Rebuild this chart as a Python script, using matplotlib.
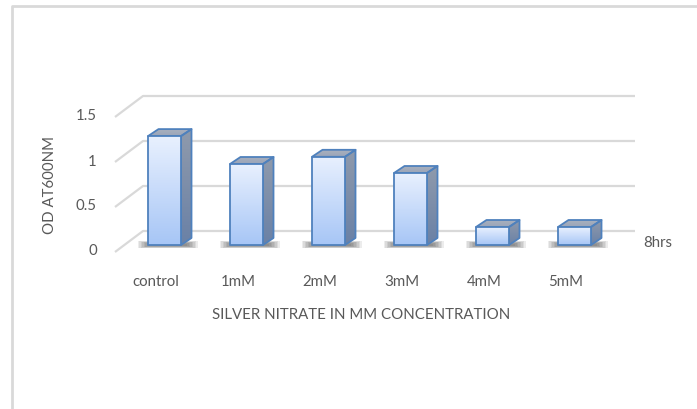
import matplotlib.pyplot as plt
import numpy as np
from matplotlib.patches import Polygon
from matplotlib.lines import Line2D
from matplotlib.colors import LinearSegmentedColormap

categories = ['control', '1mM', '2mM', '3mM', '4mM', '5mM']
od_8hrs = [1.21, 0.90, 0.98, 0.80, 0.20, 0.20]
y_ticks = [0, 0.5, 1, 1.5]
y_tick_labels = ['0', '0.5', '1', '1.5']
series_name = '8hrs'

W, H = 697, 410
# pixel layout: first bar centre, bar spacing, zero line and pixels per OD unit
X0, STEP = 164.5, 82.0
Y0, UNIT = 246.0, 90.0

plt.rcParams['font.family'] = ['Lato', 'DejaVu Sans']
TXT = '#595959'
GRID = '#d9d9d9'
EDGE = '#4f81bd'
FS = 10.8

fig = plt.figure(figsize=(W / 100, H / 100), dpi=100)
ax = fig.add_axes([0, 0, 1, 1])
ax.set_xlim(-X0 / STEP, (W - X0) / STEP)
ax.set_ylim((Y0 - H) / UNIT, Y0 / UNIT)
ax.axis('off')


def px(d):
    return d / STEP


def py(d):
    return d / UNIT


bar_w = px(33)
depth_x, depth_y = px(10.5), py(7)

# floor / walls: front edge, back wall
left_front = px(115 - X0)
left_back = px(143 - X0)
right_back = px(635 - X0)
for t, lab in zip(y_ticks, y_tick_labels):
    ax.plot([left_front, left_back, right_back],
            [t - py(7), t + py(14), t + py(14)],
            color=GRID, lw=1.6, zorder=1, solid_capstyle='butt')
    ax.text(px(97 - X0), t - py(5.5), lab, ha='right', va='center',
            fontsize=FS, color=TXT)

front_cm = LinearSegmentedColormap.from_list('front', ['#a7c6f6', '#e8f0fe'])
side_cm = LinearSegmentedColormap.from_list('side', ['#6a81a6', '#8f9aac'])
top_cm = LinearSegmentedColormap.from_list('top', ['#9aa5b8', '#a9b0be'])
grad = np.linspace(0, 1, 64).reshape(-1, 1)


def face(pts, cmap, z):
    poly = Polygon(pts, closed=True, facecolor='none', edgecolor=EDGE,
                   lw=1.3, joinstyle='round', zorder=z + 0.5)
    ax.add_patch(poly)
    xs = [p[0] for p in pts]
    ys = [p[1] for p in pts]
    im = ax.imshow(grad, cmap=cmap, origin='lower', aspect='auto',
                   extent=(min(xs), max(xs), min(ys), max(ys)), zorder=z)
    im.set_clip_path(poly)


for i, (cat, v) in enumerate(zip(categories, od_8hrs)):
    l, r = i - bar_w / 2, i + bar_w / 2

    # thin soft shadow along the bar foot
    for k in range(8):
        ex, ey = px(1.5 * k), py(0.35 * k)
        sh = [(l - ex, -py(1) - ey), (r + depth_x * 0.6 + ex, -py(1) - ey),
              (r + depth_x * 0.6 + ex, py(1.5) + ey), (l - ex, py(1.5) + ey)]
        ax.add_patch(Polygon(sh, closed=True, facecolor='#303030',
                             edgecolor='none', alpha=0.09, zorder=2))

    face([(r, 0), (r + depth_x, depth_y), (r + depth_x, v + depth_y), (r, v)],
         side_cm, 3)
    face([(l, v), (r, v), (r + depth_x, v + depth_y), (l + depth_x, v + depth_y)],
         top_cm, 3)
    face([(l, 0), (r, 0), (r, v), (l, v)], front_cm, 4)

    ax.text(i - px(8.5), py(Y0 - 282), cat, ha='center', va='center',
            fontsize=FS, color=TXT)

ax.text(px(643 - X0), py(Y0 - 243), series_name, ha='left', va='center',
        fontsize=FS, color=TXT)

fig.text(50 / W, 1 - 185 / H, 'OD AT600NM', rotation=90, ha='center',
         va='center', fontsize=FS, color=TXT)
fig.text(361 / W, 1 - 315 / H, 'SILVER NITRATE IN MM CONCENTRATION',
         ha='center', va='center', fontsize=FS, color=TXT)

# chart area border
fig.add_artist(Line2D([11.5 / W, 11.5 / W, 1.0], [0.0, 1 - 6.5 / H, 1 - 6.5 / H],
                      transform=fig.transFigure, color=GRID, lw=2))

fig.savefig('out.png', dpi=100)
